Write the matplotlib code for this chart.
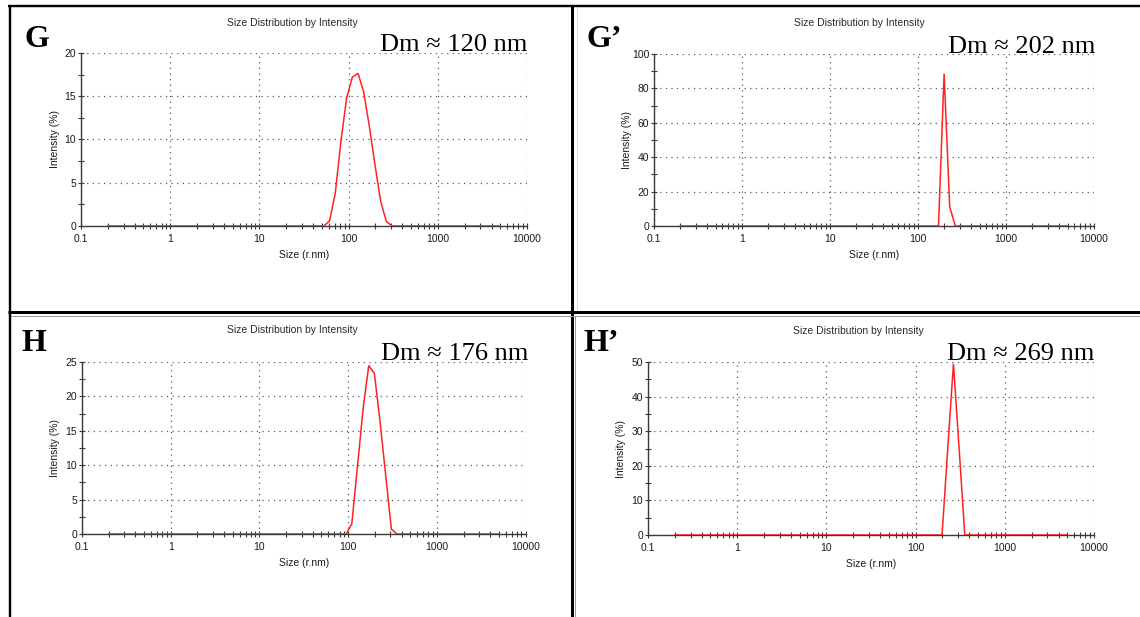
import matplotlib
matplotlib.use('Agg')
import matplotlib.pyplot as plt
from matplotlib.ticker import FixedLocator, FixedFormatter, MultipleLocator, NullFormatter

# ---------------- data ----------------
panel_letters = ["G", "G\u2019", "H", "H\u2019"]
dm_labels = ["Dm \u2248 120 nm", "Dm \u2248 202 nm", "Dm \u2248 176 nm", "Dm \u2248 269 nm"]
chart_title = "Size Distribution by Intensity"
x_label = "Size (r.nm)"
y_label = "Intensity (%)"

size_G = [0.2, 52.85, 61.2, 70.9, 82.1, 95.05, 110.1, 127.5, 147.65, 171.0, 198.0, 229.3, 265.5, 307.5, 5000]
int_G = [0, 0, 0.6, 3.8, 9.8, 14.8, 17.2, 17.65, 15.5, 11.5, 7.0, 2.8, 0.5, 0, 0]

size_G2 = [0.2, 171.0, 198.0, 229.3, 265.5, 5000]
int_G2 = [0, 0, 88.5, 11.0, 0, 0]

size_H = [0.2, 95.05, 110.1, 127.5, 147.65, 171.0, 198.0, 229.3, 265.5, 307.5, 356.0, 5000]
int_H = [0, 0, 1.5, 9.8, 18.2, 24.5, 23.3, 16.3, 8.5, 0.7, 0, 0]

size_H2 = [0.2, 198.0, 229.3, 265.5, 307.5, 356.0, 5000]
int_H2 = [0, 0, 25.0, 49.5, 25.0, 0, 0]

y_max = [20, 100, 25, 50]
y_step = [5, 20, 5, 10]

x_major = [0.1, 1, 10, 100, 1000, 10000]
x_major_labels = ["0.1", "1", "10", "100", "1000", "10000"]

# ---------------- layout (pixels) ----------------
W, H = 1140, 617
fig = plt.figure(figsize=(W / 100, H / 100), dpi=100)
fig.patch.set_facecolor('white')


def rect(l, t, r, b):
    return [l / W, 1 - b / H, (r - l) / W, (b - t) / H]


ov = fig.add_axes([0, 0, 1, 1], zorder=0)
ov.set_xlim(0, W)
ov.set_ylim(H, 0)
ov.axis('off')
PT = 0.72  # px -> pt
# frame lines
ov.plot([8, W], [6.2, 6.2], color='black', lw=2.4 * PT, solid_capstyle='butt')
ov.plot([9.5, 9.5], [5, H], color='black', lw=2.4 * PT, solid_capstyle='butt')
ov.plot([571.7, 571.7], [5, H], color='black', lw=3.0 * PT, solid_capstyle='butt')
ov.plot([8, W], [312.2, 312.2], color='black', lw=3.0 * PT, solid_capstyle='butt')
ov.plot([11, W], [315.6, 315.6], color='#9a9a9a', lw=1.0 * PT, solid_capstyle='butt')
ov.plot([575.2, 575.2], [315.6, H], color='#9a9a9a', lw=1.0 * PT, solid_capstyle='butt')
ov.plot([576.5, 576.5], [8, 310], color='#d0d0d0', lw=0.8 * PT, solid_capstyle='butt')

panels = [
    dict(sizes=size_G, vals=int_G, box=(81, 53, 527, 226), title=(292, 23),
         letter=(25, 47), dm=(527, 51)),
    dict(sizes=size_G2, vals=int_G2, box=(654, 54, 1094, 226), title=(859, 23),
         letter=(587, 47), dm=(1095, 53)),
    dict(sizes=size_H, vals=int_H, box=(82, 362, 525.5, 534), title=(292, 330),
         letter=(22, 351), dm=(528, 360)),
    dict(sizes=size_H2, vals=int_H2, box=(648, 362, 1094, 535), title=(858.5, 331),
         letter=(584, 351), dm=(1094, 360)),
]

sans = ['Liberation Sans', 'DejaVu Sans']
serif = ['Liberation Serif', 'DejaVu Serif']
axcol = '#3a3a3a'

for i, p in enumerate(panels):
    l, t, r, b = p['box']
    ax = fig.add_axes(rect(l, t, r, b), zorder=2)
    ax.set_facecolor('white')
    ax.set_xscale('log')
    ax.set_xlim(0.1, 10000)
    ax.set_ylim(0, y_max[i])

    line, = ax.plot(p['sizes'], p['vals'], color='#ff2222', lw=1.1, zorder=2.2,
                    solid_joinstyle='miter')

    ax.xaxis.set_major_locator(FixedLocator(x_major))
    ax.xaxis.set_major_formatter(FixedFormatter(x_major_labels))
    minors = [k * 10.0 ** e for e in range(-1, 4) for k in range(2, 10)]
    ax.xaxis.set_minor_locator(FixedLocator(minors))
    ax.xaxis.set_minor_formatter(NullFormatter())
    ax.yaxis.set_major_locator(MultipleLocator(y_step[i]))
    ax.yaxis.set_minor_locator(MultipleLocator(y_step[i] / 2))

    ax.grid(True, which='major', linestyle=(0, (1, 3.5)), color='#5a5a5a', lw=0.9)
    ax.set_axisbelow(True)

    for s in ['top', 'right']:
        ax.spines[s].set_visible(False)
    for s in ['left', 'bottom']:
        ax.spines[s].set_color(axcol)
        ax.spines[s].set_linewidth(1.0)
        ax.spines[s].set_zorder(2.0)

    ax.tick_params(axis='both', which='major', direction='inout', length=5,
                   width=0.8, color=axcol, labelsize=7.5, labelcolor='#1a1a1a')
    ax.tick_params(axis='both', which='minor', direction='inout', length=4,
                   width=0.8, color=axcol)
    ax.tick_params(axis='x', which='major', pad=3.2)
    ax.tick_params(axis='y', which='major', pad=1)
    for lab in ax.get_xticklabels() + ax.get_yticklabels():
        lab.set_fontfamily(sans)

    ax.set_xlabel(x_label, fontsize=7.5, family=sans, color='#1a1a1a')
    ax.set_ylabel(y_label, fontsize=7.5, family=sans, color='#1a1a1a')
    ax.xaxis.label.set_va('center')
    ax.yaxis.label.set_va('center')
    ax.xaxis.set_label_coords(0.5, -(29.0) / (b - t))
    ax.yaxis.set_label_coords(-(26.5) / (r - l), 0.5)

    # title
    fig.text(p['title'][0] / W, 1 - p['title'][1] / H, chart_title, ha='center',
             va='center', fontsize=7.5, family=sans, color='#2a2a2a')
    # panel letter
    fig.text(p['letter'][0] / W, 1 - p['letter'][1] / H, panel_letters[i], ha='left',
             va='baseline', fontsize=23, family=serif, fontweight='bold', color='black')
    # Dm annotation
    fig.text(p['dm'][0] / W, 1 - p['dm'][1] / H, dm_labels[i], ha='right',
             va='baseline', fontsize=19, family=serif, color='black', zorder=5)

fig.savefig('out.png', dpi=100, facecolor='white')
